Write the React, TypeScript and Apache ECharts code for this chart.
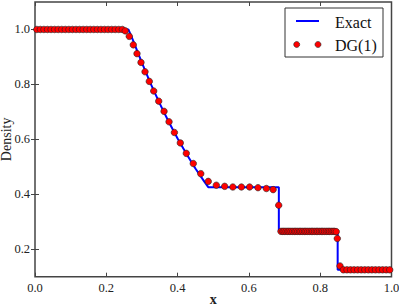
import React, { useEffect, useRef } from "react";
import * as echarts from "echarts";

const xTicks = [0, 0.2, 0.4, 0.6, 0.8, 1.0];
const yTicks = [0.2, 0.4, 0.6, 0.8, 1.0];

// Exact solution (piecewise)
const exactX = [0, 0.262, 0.275, 0.3, 0.325, 0.35, 0.375, 0.4, 0.425, 0.45, 0.475, 0.486, 0.684, 0.684, 0.849, 0.849, 1.0];
const exactRho = [1.0, 1.0, 0.96, 0.878, 0.801, 0.73, 0.664, 0.603, 0.547, 0.494, 0.446, 0.426, 0.426, 0.266, 0.266, 0.125, 0.125];

// DG(1) cell values
const dgX = [
  0.005, 0.015, 0.025, 0.035, 0.045, 0.055, 0.065, 0.075, 0.085, 0.095,
  0.105, 0.115, 0.125, 0.135, 0.145, 0.155, 0.165, 0.175, 0.185, 0.195,
  0.205, 0.215, 0.225, 0.235, 0.245,
  0.253, 0.2645, 0.2757, 0.2861, 0.2973, 0.3086, 0.3206, 0.333, 0.347, 0.362,
  0.376, 0.391, 0.4076, 0.4244, 0.444, 0.465, 0.486, 0.5086, 0.532, 0.555,
  0.579, 0.602, 0.6255, 0.649, 0.668, 0.6836,
  0.690, 0.695, 0.699, 0.704, 0.709, 0.713, 0.718, 0.723, 0.728, 0.732,
  0.737, 0.742, 0.746, 0.751, 0.756, 0.760, 0.765, 0.770, 0.775, 0.779,
  0.784, 0.789, 0.793, 0.798, 0.803, 0.807, 0.812, 0.817, 0.822, 0.826,
  0.831, 0.836, 0.840, 0.845,
  0.848, 0.8556,
  0.865, 0.875, 0.885, 0.895, 0.905, 0.915, 0.925, 0.935, 0.945, 0.955,
  0.965, 0.975, 0.985, 0.995,
];
const dgRho = [
  1.0, 1.0, 1.0, 1.0, 1.0, 1.0, 1.0, 1.0, 1.0, 1.0,
  1.0, 1.0, 1.0, 1.0, 1.0, 1.0, 1.0, 1.0, 1.0, 1.0,
  1.0, 1.0, 1.0, 1.0, 1.0,
  0.995, 0.975, 0.944, 0.912, 0.88, 0.846, 0.811, 0.776, 0.739, 0.702,
  0.664, 0.625, 0.587, 0.549, 0.512, 0.475, 0.447, 0.433, 0.429, 0.4265,
  0.4265, 0.4265, 0.424, 0.421, 0.417, 0.36,
  0.265, 0.265, 0.265, 0.265, 0.265, 0.265, 0.265, 0.265, 0.265, 0.265,
  0.265, 0.265, 0.265, 0.265, 0.265, 0.265, 0.265, 0.265, 0.265, 0.265,
  0.265, 0.265, 0.265, 0.265, 0.265, 0.265, 0.265, 0.265, 0.265, 0.265,
  0.265, 0.265, 0.265, 0.264,
  0.239, 0.139,
  0.125, 0.125, 0.125, 0.125, 0.125, 0.125, 0.125, 0.125, 0.125, 0.125,
  0.125, 0.125, 0.125, 0.125,
];

const FONT = "Liberation Serif";
const AXIS_COLOR = "#444";

export default function App() {
  const ref = useRef<HTMLDivElement>(null);
  useEffect(() => {
    if (!ref.current) return;
    const chart = echarts.init(ref.current, undefined, { renderer: "svg" });
    const tickStyle = { show: true, inside: true, length: 4, lineStyle: { color: AXIS_COLOR, width: 1 } };
    const lbl = { fontFamily: FONT, fontSize: 12.5, color: "#222", formatter: (v: number) => v.toFixed(1) };
    chart.setOption({
      animation: false,
      backgroundColor: "#fff",
      grid: {
        left: 35, right: 7.5, top: 2, bottom: 29.3, containLabel: false, outerBoundsMode: "none",
        show: true, borderColor: AXIS_COLOR, borderWidth: 1.5, backgroundColor: "transparent",
      },
      xAxis: [
        {
          type: "value", min: 0, max: 1, interval: 0.2, position: "bottom",
          axisLine: { show: false }, splitLine: { show: false },
          axisTick: { ...tickStyle, customValues: xTicks },
          axisLabel: { ...lbl, margin: 5, customValues: xTicks },
          name: "x", nameLocation: "middle", nameGap: 18, nameMoveOverlap: false,
          nameTextStyle: { fontFamily: FONT, fontSize: 14, lineHeight: 10, fontWeight: "bold", color: "#222" },
        },
        {
          type: "value", min: 0, max: 1, interval: 0.2, position: "top",
          axisLine: { show: false }, splitLine: { show: false },
          axisTick: { ...tickStyle, customValues: xTicks }, axisLabel: { show: false },
        },
      ],
      yAxis: [
        {
          type: "value", min: 0.1, max: 1.1, position: "left",
          axisLine: { show: false }, splitLine: { show: false },
          axisTick: { ...tickStyle, customValues: yTicks },
          axisLabel: { ...lbl, margin: 5, customValues: yTicks },
          name: "Density", nameLocation: "middle", nameGap: 22, nameMoveOverlap: false,
          nameTextStyle: { fontFamily: FONT, fontSize: 14, color: "#222" },
        },
        {
          type: "value", min: 0.1, max: 1.1, position: "right",
          axisLine: { show: false }, splitLine: { show: false },
          axisTick: { ...tickStyle, customValues: yTicks },
          axisLabel: { show: false, customValues: yTicks },
        },
      ],
      series: [
        {
          name: "Exact", type: "line", xAxisIndex: 0, yAxisIndex: 0,
          data: exactX.map((x, i) => [x, exactRho[i]]),
          showSymbol: false, symbol: "none",
          lineStyle: { color: "#0000ff", width: 2 },
          z: 2,
        },
        {
          name: "DG(1)", type: "scatter", xAxisIndex: 0, yAxisIndex: 0,
          data: dgX.map((x, i) => [x, dgRho[i]]),
          symbol: "circle", symbolSize: 6.5,
          itemStyle: { color: "#ff0000", borderColor: "#222", borderWidth: 0.6, opacity: 1 },
          z: 3,
        },
      ],
      graphic: [
        {
          type: "group", z: 100,
          children: [
            { type: "rect", shape: { x: 285, y: 8, width: 98, height: 49 }, style: { fill: "#fff", stroke: "#333", lineWidth: 1 } },
            { type: "line", shape: { x1: 296, y1: 21, x2: 319, y2: 21 }, style: { stroke: "#0000ff", lineWidth: 2 } },
            { type: "text", x: 335, y: 22, style: { text: "Exact", font: `16px '${FONT}'`, fill: "#111", verticalAlign: "middle", align: "left" } },
            { type: "circle", shape: { cx: 296.7, cy: 44.5, r: 3 }, style: { fill: "#ff0000", stroke: "#222", lineWidth: 0.6 } },
            { type: "circle", shape: { cx: 318, cy: 44.5, r: 3 }, style: { fill: "#ff0000", stroke: "#222", lineWidth: 0.6 } },
            { type: "text", x: 335, y: 45, style: { text: "DG(1)", font: `16px '${FONT}'`, fill: "#111", verticalAlign: "middle", align: "left" } },
          ],
        },
      ],
    });
    return () => chart.dispose();
  }, []);
  return <div ref={ref} style={{ position: "fixed", left: 0, top: 0, width: 399, height: 306 }} />;
}
